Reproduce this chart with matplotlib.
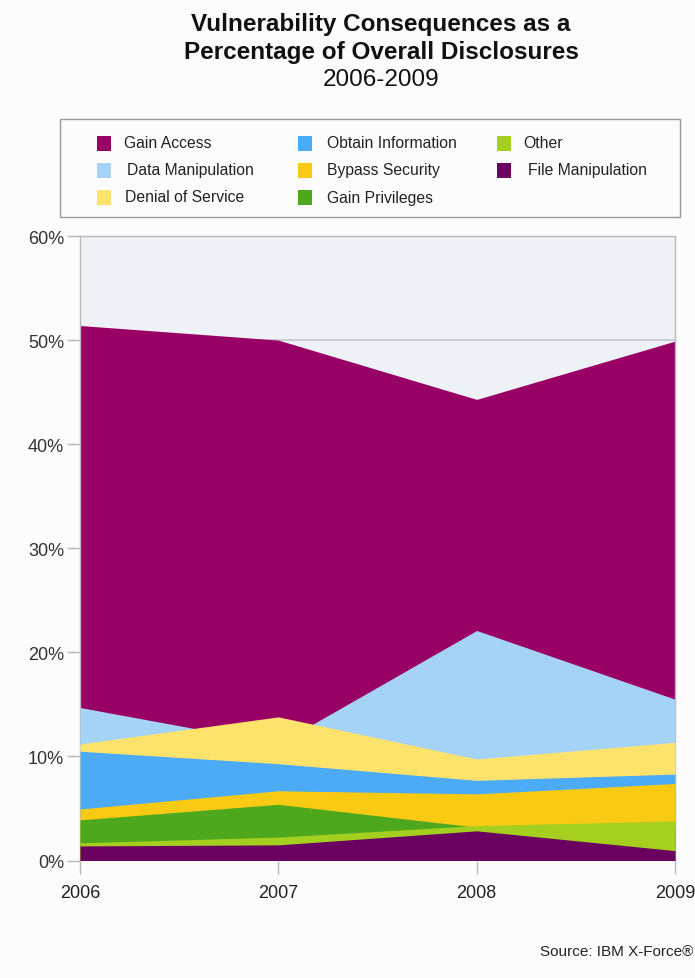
import matplotlib
matplotlib.use("Agg")
import matplotlib.pyplot as plt
from matplotlib.patches import Rectangle

plt.rcParams['font.family'] = ['Liberation Sans', 'DejaVu Sans']

years = [2006, 2007, 2008, 2009]

# top edge of each area (in %), as drawn in the chart; areas overlap, back to front
gain_access = [51.4, 50.0, 44.3, 49.9]
data_manipulation = [14.7, 11.2, 22.1, 15.5]
denial_of_service = [11.2, 13.8, 9.75, 11.35]
obtain_information = [10.5, 9.3, 7.7, 8.3]
bypass_security = [4.95, 6.7, 6.4, 7.4]
gain_privileges = [3.9, 5.4, 3.2, 3.3]
other = [1.7, 2.25, 3.35, 3.8]
file_manipulation = [1.4, 1.5, 2.85, 0.95]

layers = [
    ("Gain Access", gain_access, "#990066"),
    ("Data Manipulation", data_manipulation, "#a5d3f8"),
    ("Denial of Service", denial_of_service, "#fde36c"),
    ("Obtain Information", obtain_information, "#4babf6"),
    ("Bypass Security", bypass_security, "#f9ca14"),
    ("Gain Privileges", gain_privileges, "#4ea81e"),
    ("Other", other, "#a5cf1f"),
    ("File Manipulation", file_manipulation, "#6a0060"),
]

W, H = 695, 979
fig = plt.figure(figsize=(W / 100, H / 100), dpi=100)
fig.patch.set_facecolor("#fcfcfc")

def fx(x):
    return x / W

def fy(y):
    return 1 - y / H

# titles
fig.text(fx(381), fy(25), "Vulnerability Consequences as a", ha="center", va="center",
         fontsize=17.5, fontweight="bold", color="#111111")
fig.text(fx(381), fy(52), "Percentage of Overall Disclosures", ha="center", va="center",
         fontsize=17.5, fontweight="bold", color="#111111")
fig.text(fx(381), fy(80), "2006-2009", ha="center", va="center", fontsize=17.5, color="#111111")

# legend box
fig.add_artist(Rectangle((fx(60), fy(218)), fx(680) - fx(60), fy(120) - fy(218),
                         transform=fig.transFigure, facecolor="#fcfcfc", edgecolor="#9a9a9a", lw=1))
legend_pos = {
    "Gain Access": (97, 124, 144),
    "Data Manipulation": (97, 127, 171),
    "Denial of Service": (97, 125, 198),
    "Obtain Information": (298, 327, 144),
    "Bypass Security": (298, 327, 171),
    "Gain Privileges": (298, 327, 198),
    "Other": (497, 523, 144),
    "File Manipulation": (497, 528, 171),
}
for name, vals, col in layers:
    sx, tx, ry = legend_pos[name]
    fig.add_artist(Rectangle((fx(sx), fy(ry + 7.5)), 14 / W, 15 / H,
                             transform=fig.transFigure, facecolor=col, edgecolor="none"))
    fig.text(fx(tx), fy(ry), name, ha="left", va="center", fontsize=11.3, color="#222222")

# plot area
ax = fig.add_axes([fx(80), fy(861.5), fx(675) - fx(80), fy(237) - fy(861.5)])
ax.set_facecolor("#eef1f6")
ax.set_xlim(2006, 2009)
ax.set_ylim(0, 60)

for i, (name, vals, col) in enumerate(layers):
    ax.fill_between(years, 0, vals, color=col, lw=0, zorder=2 + i)

ax.set_yticks(range(0, 61, 10))
ax.set_yticklabels([f"{v}%" for v in range(0, 61, 10)])
ax.set_xticks(years)
ax.set_xticklabels([str(y) for y in years])
ax.yaxis.grid(True, color="#c4c6c9", lw=1.2, zorder=1)
ax.set_axisbelow(True)

for s in ax.spines.values():
    s.set_color("#b8b8b8")
    s.set_linewidth(1)
ax.spines["bottom"].set_visible(False)

ax.tick_params(axis="y", length=9.5, width=1, color="#b8b8b8", labelsize=13,
               labelcolor="#333333", pad=2)
ax.tick_params(axis="x", length=9, width=1, color="#b8b8b8", labelsize=13,
               labelcolor="#222222", pad=8)

fig.text(fx(693), fy(952), "Source: IBM X-Force®", ha="right", va="center",
         fontsize=11, color="#222222")

fig.savefig("out.png", dpi=100, facecolor=fig.get_facecolor())
